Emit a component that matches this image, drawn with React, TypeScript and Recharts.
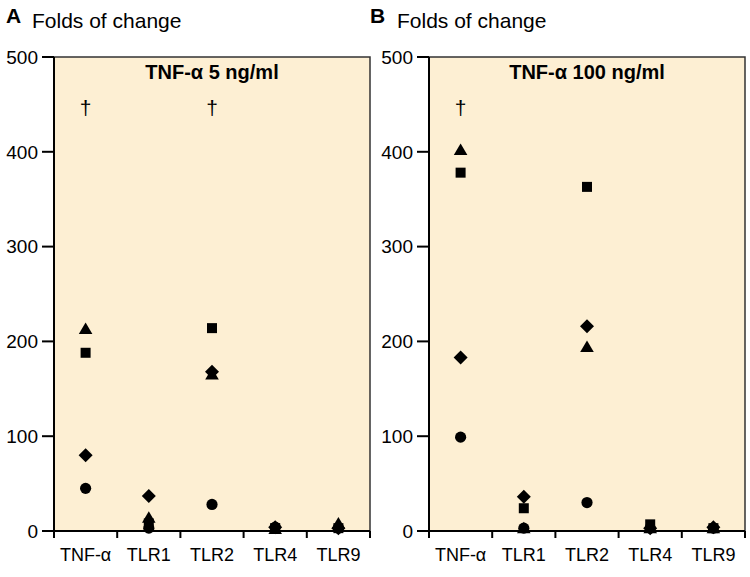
import React from "react";
import {
  ScatterChart,
  Scatter,
  XAxis,
  YAxis,
  ReferenceArea,
} from "recharts";

const categories = ["TNF-α", "TLR1", "TLR2", "TLR4", "TLR9"];
const yTicks = [0, 100, 200, 300, 400, 500];
const nameTicks = [0.5, 1.5, 2.5, 3.5, 4.5];

// panel A: TNF-α 5 ng/ml
const lowCircle = [45, 3, 28, 4, 3];
const lowDiamond = [80, 37, 168, 4, 3];
const lowSquare = [188, 8, 214, 3, 3];
const lowTriangle = [213, 14, 165, 2, 8];
const lowDagger = [447, null, 447, null, null];

// panel B: TNF-α 100 ng/ml
const highCircle = [99, 3, 30, 3, 3];
const highDiamond = [183, 36, 216, 3, 4];
const highSquare = [378, 24, 363, 7, 3];
const highTriangle = [402, 3, 194, 3, 3];
const highDagger = [447, null, null, null, null];

const BG = "#FDEFD3";
const FONT = "'Liberation Sans', Arial, sans-serif";
const PLOT_W = 316;
const HALF_BAND = PLOT_W / categories.length / 2;

const toRows = (vals: (number | null)[]) =>
  vals
    .map((v, i) => ({ x: i + 0.5, y: v }))
    .filter((d) => d.y !== null);

const Circle = (p: any) => <circle cx={p.cx} cy={p.cy} r={5.6} fill="#000" />;
const Square = (p: any) => (
  <rect x={p.cx - 5} y={p.cy - 5} width={10} height={10} fill="#000" />
);
const Diamond = (p: any) => (
  <path
    d={`M${p.cx},${p.cy - 7}L${p.cx + 7},${p.cy}L${p.cx},${p.cy + 7}L${p.cx - 7},${p.cy}Z`}
    fill="#000"
  />
);
const Triangle = (p: any) => (
  <path
    d={`M${p.cx},${p.cy - 6.5}L${p.cx + 6.8},${p.cy + 5}L${p.cx - 6.8},${p.cy + 5}Z`}
    fill="#000"
  />
);
const Dagger = (p: any) => (
  <text
    x={p.cx}
    y={p.cy}
    textAnchor="middle"
    dominantBaseline="central"
    fontSize={21}
    fontFamily={FONT}
    fill="#000"
  >
    †
  </text>
);

// category label centred in its band, tick marks on the band edges
const CategoryTick = (p: any) => {
  const idx = Math.floor(p.payload.value);
  const top = p.y - 17;
  return (
    <g>
      <line x1={p.x - HALF_BAND} x2={p.x - HALF_BAND} y1={top} y2={top + 7} stroke="#000" strokeWidth={2} />
      {idx === categories.length - 1 && (
        <line x1={p.x + HALF_BAND} x2={p.x + HALF_BAND} y1={top} y2={top + 7} stroke="#000" strokeWidth={2} />
      )}
      <text
        x={p.x}
        y={top + 30}
        textAnchor="middle"
        fontSize={18}
        fontFamily={FONT}
        fill="#000"
      >
        {categories[idx]}
      </text>
    </g>
  );
};

type PanelProps = {
  circle: number[];
  diamond: number[];
  square: number[];
  triangle: number[];
  dagger: (number | null)[];
};

const Panel: React.FC<PanelProps> = ({ circle, diamond, square, triangle, dagger }) => (
  <ScatterChart
    width={375}
    height={577}
    margin={{ top: 57, right: 5, left: 0, bottom: 6 }}
  >
    <XAxis
      type="number"
      dataKey="x"
      domain={[0, 5]}
      ticks={nameTicks}
      height={40}
      axisLine={{ stroke: "#000", strokeWidth: 2 }}
      tickLine={false}
      tickSize={0}
      tickMargin={17}
      tick={CategoryTick}
    />
    <YAxis
      type="number"
      dataKey="y"
      domain={[0, 500]}
      ticks={yTicks}
      width={54}
      tickSize={12}
      tickMargin={4}
      axisLine={{ stroke: "#000", strokeWidth: 2 }}
      tickLine={{ stroke: "#000", strokeWidth: 2 }}
      tick={{ fill: "#000", fontSize: 19, fontFamily: FONT }}
    />
    <ReferenceArea
      x1={0}
      x2={5}
      y1={0}
      y2={500}
      fill={BG}
      fillOpacity={1}
      stroke="#333"
      strokeWidth={1.5}
    />
    <Scatter data={toRows(circle)} shape={Circle} isAnimationActive={false} />
    <Scatter data={toRows(diamond)} shape={Diamond} isAnimationActive={false} />
    <Scatter data={toRows(square)} shape={Square} isAnimationActive={false} />
    <Scatter data={toRows(triangle)} shape={Triangle} isAnimationActive={false} />
    <Scatter data={toRows(dagger)} shape={Dagger} isAnimationActive={false} />
  </ScatterChart>
);

const abs = (left: number, top: number, extra: React.CSSProperties = {}): React.CSSProperties => ({
  position: "absolute",
  left,
  top,
  fontFamily: FONT,
  color: "#000",
  whiteSpace: "nowrap",
  lineHeight: 1,
  ...extra,
});

export default function App() {
  return (
    <div style={{ position: "absolute", left: 0, top: 0, width: 750, height: 577, background: "#fff" }}>
      <div style={abs(0, 0)}>
        <Panel circle={lowCircle} diamond={lowDiamond} square={lowSquare} triangle={lowTriangle} dagger={lowDagger} />
      </div>
      <div style={abs(375, 0)}>
        <Panel circle={highCircle} diamond={highDiamond} square={highSquare} triangle={highTriangle} dagger={highDagger} />
      </div>

      <div style={abs(6, 5, { fontSize: 21, fontWeight: "bold" })}>A</div>
      <div style={abs(32, 10, { fontSize: 21 })}>Folds of change</div>
      <div style={abs(370, 5, { fontSize: 21, fontWeight: "bold" })}>B</div>
      <div style={abs(397, 10, { fontSize: 21 })}>Folds of change</div>

      <div style={abs(54, 62, { width: 316, textAlign: "center", fontSize: 20, fontWeight: "bold" })}>
        TNF-α 5 ng/ml
      </div>
      <div style={abs(429, 62, { width: 316, textAlign: "center", fontSize: 20, fontWeight: "bold" })}>
        TNF-α 100 ng/ml
      </div>
    </div>
  );
}
